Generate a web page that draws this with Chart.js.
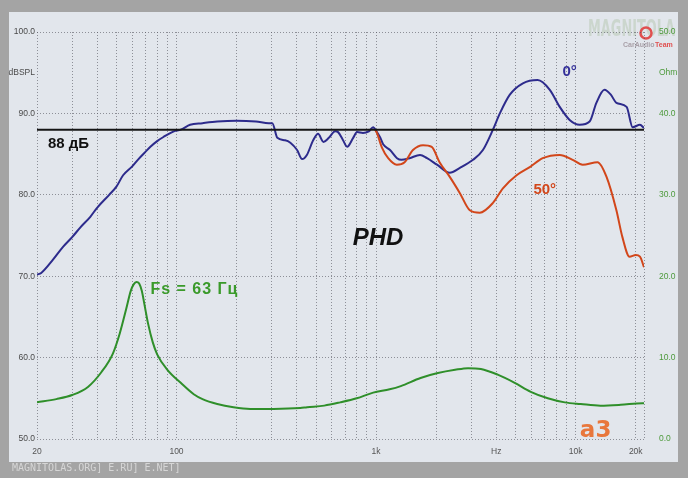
<!DOCTYPE html>
<html><head><meta charset="utf-8">
<script src="https://cdn.jsdelivr.net/npm/chart.js@4.4.1/dist/chart.umd.min.js"></script>
<style>html,body{margin:0;padding:0;background:#a4a4a4;overflow:hidden}</style>
</head><body>
<canvas id="c" width="688" height="478"></canvas>
<script>
// ---- data ----
const freq0 = [20,21,24,27,30,33,37,40,46,50,54,60,64,70,74,80,86,97,105,117,135,160,200,250,290,302,320,350,372,402,426,450,484,512,545,580,624,645,680,716,768,803,860,920,966,1010,1050,1085,1175,1273,1340,1470,1660,1800,2020,2340,2630,3060,3430,3850,4170,4680,5440,6450,7420,8320,9330,10470,11750,12700,13950,15000,16000,18000,19300,21000,22000];
const spl0  = [70.2,70.4,72.0,73.6,74.8,76.0,77.3,78.4,80.0,81.0,82.4,83.5,84.3,85.3,85.9,86.6,87.1,87.8,88.0,88.6,88.8,89.0,89.1,89.0,88.8,88.8,87.0,86.7,86.4,85.5,84.4,84.9,86.7,87.5,86.5,87.0,87.8,87.7,86.8,85.9,87.0,87.7,87.6,87.8,88.3,87.7,87.0,86.2,85.5,84.5,84.3,84.5,84.9,84.5,83.7,82.7,83.3,84.3,85.5,88.0,90.0,92.3,93.7,94.1,92.9,90.8,89.2,88.6,89.0,91.3,92.9,92.3,91.3,90.8,88.3,88.6,88.2];

const freq50 = [990,1010,1070,1150,1270,1390,1530,1720,1900,2080,2340,2630,2950,3310,3850,4320,5060,5890,6840,8320,9660,10840,12880,14280,16000,17150,18620,20000,21000,22000];
const spl50  = [88.0,87.6,85.8,84.5,83.7,84.0,85.5,86.1,85.9,84.0,82.2,80.2,78.1,77.8,79.0,80.8,82.4,83.4,84.5,84.9,84.3,83.7,84.0,82.2,78.1,74.8,72.4,72.6,72.4,71.1];

const freqZ = [20,25,30,36,42,48,52,56,59,61,63,65,67,69,72,76,80,90,105,122,135,160,193,234,306,417,451,550,661,800,967,1170,1330,1670,2040,2490,2890,3350,4070,4950,5960,7250,8830,10600,13300,16800,21600,22000];
const ohmZ  = [4.5,4.9,5.4,6.4,8.2,10.5,13.0,16.0,18.2,19.0,19.3,19.1,18.2,16.6,14.2,11.9,10.4,8.5,6.9,5.5,4.9,4.3,3.9,3.7,3.7,3.8,3.9,4.1,4.5,5.0,5.7,6.1,6.5,7.5,8.1,8.5,8.7,8.6,7.9,6.9,5.8,5.0,4.5,4.3,4.1,4.2,4.4,4.4];

const refLevel = 88;
const freqRange = [20, 22000];

const xTicks = [20,30,40,50,60,70,80,90,100,200,300,400,500,600,700,800,900,1000,2000,3000,4000,5000,6000,7000,8000,9000,10000,20000,22000];
const xTickLabels = {20:'20',100:'100',1000:'1k',4000:'Hz',10000:'10k',20000:'20k'};
const yTicksL = [50,60,70,80,90,95,100];
const yLabelsL = {50:'50.0',60:'60.0',70:'70.0',80:'80.0',90:'90.0',95:'dBSPL',100:'100.0'};
const yTicksR = [0,10,20,30,40,45,50];
const yLabelsR = {0:'0.0',10:'10.0',20:'20.0',30:'30.0',40:'40.0',45:'Ohm',50:'50.0'};

// text annotations anchored in data coordinates
const notes = [
  {text:'88 дБ', f:22.7, v:86.3, font:'bold 15px "Liberation Sans", Arial, sans-serif', color:'#111', align:'left', spacing:'0px'},
  {text:'0°', f:9330, v:95.1, font:'bold 15px "Liberation Sans", Arial, sans-serif', color:'#34309a', align:'center', spacing:'0px'},
  {text:'50°', f:7000, v:80.6, font:'bold 15px "Liberation Sans", Arial, sans-serif', color:'#d2461a', align:'center', spacing:'0px'},
  {text:'PHD', f:1023, v:74.7, font:'italic bold 24px "Liberation Sans", Arial, sans-serif', color:'#111', align:'center', spacing:'0px'},
  {text:'Fs = 63 Гц', f:74, v:68.3, font:'bold 16px "Liberation Sans", Arial, sans-serif', color:'#3a9a2a', align:'left', spacing:'1px'},
  {text:'a3', f:12590, v:51.0, font:'bold 23px "DejaVu Sans", sans-serif', color:'#e8773c', align:'center', spacing:'0px'}
];

const toPts = (fx, vy) => fx.map((f,i)=>({x:f, y:vy[i]}));

const bgPlugin = {
  id:'bg',
  beforeDraw(chart){
    const c = chart.ctx;
    c.save();
    c.fillStyle = '#a4a4a4';
    c.fillRect(0,0,chart.width,chart.height);
    c.fillStyle = '#e2e6ec';
    c.fillRect(9,12,669,450);
    c.font = '10px "DejaVu Sans Mono", monospace';
    c.fillStyle = '#d6d6d6';
    c.textBaseline = 'middle';
    c.fillText('MAGNITOLAS.ORG] E.RU] E.NET]', 12, 468);
    c.font = 'bold 20px "Liberation Sans Narrow", "DejaVu Sans Condensed", sans-serif';
    const w = c.measureText('MAGNITOLA').width;
    c.save();
    c.translate(588, 30);
    c.scale(87 / w, 1.15);
    c.fillStyle = 'rgba(170,190,160,0.4)';
    c.fillText('MAGNITOLA', 0, 0);
    c.restore();
    c.beginPath();
    c.arc(646, 33, 5.5, 0, Math.PI*2);
    c.strokeStyle = '#e05050'; c.lineWidth = 2.5; c.stroke();
    c.font = 'bold 7px "Liberation Sans", sans-serif';
    c.fillStyle = '#a9a0a8';
    c.fillText('CarAudio', 623, 45);
    c.fillStyle = '#e05050';
    c.fillText('Team', 655, 45);
    c.restore();
  }
};

const notePlugin = {
  id:'notes',
  afterDatasetsDraw(chart){
    const c = chart.ctx, sx = chart.scales.x, sy = chart.scales.y;
    c.save();
    c.textBaseline = 'middle';
    for (const n of notes){
      c.font = n.font; c.fillStyle = n.color; c.textAlign = n.align;
      c.letterSpacing = n.spacing;
      c.fillText(n.text, sx.getPixelForValue(n.f), sy.getPixelForValue(n.v));
    }
    c.restore();
  }
};

const tickFont = {family:'"Liberation Sans", Arial, sans-serif', size:8.5};

new Chart(document.getElementById('c'), {
  type:'line',
  data:{datasets:[
    {label:'ref', data:toPts(freqRange,[refLevel,refLevel]), borderColor:'#151515', borderWidth:2, pointRadius:0, yAxisID:'y'},
    {label:'50°', data:toPts(freq50,spl50), borderColor:'#d2461a', borderWidth:2, pointRadius:0, cubicInterpolationMode:'monotone', yAxisID:'y'},
    {label:'0°', data:toPts(freq0,spl0), borderColor:'#2d2b8c', borderWidth:2, pointRadius:0, cubicInterpolationMode:'monotone', yAxisID:'y'},
    {label:'Z', data:toPts(freqZ,ohmZ), borderColor:'#2f8f2a', borderWidth:2, pointRadius:0, cubicInterpolationMode:'monotone', yAxisID:'yZ'}
  ]},
  options:{
    responsive:false, animation:false, devicePixelRatio:1,
    layout:{padding:{left:0,right:0,top:32,bottom:0}},
    plugins:{legend:{display:false}, tooltip:{enabled:false}},
    scales:{
      x:{type:'logarithmic', min:freqRange[0], max:freqRange[1],
        afterBuildTicks:s=>{s.ticks = xTicks.map(v=>({value:v}));},
        afterFit:s=>{s.height = 39;},
        ticks:{autoSkip:false, maxRotation:0, minRotation:0, padding:8, font:tickFont, color:'#555',
          callback:(v)=> xTickLabels[v] ?? ''},
        grid:{color:'rgba(85,85,95,0.6)', lineWidth:1, drawTicks:false},
        border:{display:false, dash:[1,2]}
      },
      y:{type:'linear', position:'left', min:50, max:100,
        afterBuildTicks:s=>{s.ticks = yTicksL.map(v=>({value:v}));},
        afterFit:s=>{s.width = 37;},
        ticks:{padding:2, font:tickFont, color:'#4a4a4a', callback:(v)=> yLabelsL[v] ?? ''},
        grid:{color:(ctx)=> ctx.tick && ctx.tick.value===95 ? 'rgba(0,0,0,0)' : 'rgba(85,85,95,0.6)', lineWidth:1, drawTicks:false},
        border:{display:false, dash:[1,2]}
      },
      yZ:{type:'linear', position:'right', min:0, max:50,
        afterBuildTicks:s=>{s.ticks = yTicksR.map(v=>({value:v}));},
        afterFit:s=>{s.width = 44;},
        ticks:{padding:7, font:tickFont, color:'#4e9a3c', callback:(v)=> yLabelsR[v] ?? ''},
        grid:{display:false},
        border:{display:false}
      }
    }
  },
  plugins:[bgPlugin, notePlugin]
});
</script>
</body></html>
